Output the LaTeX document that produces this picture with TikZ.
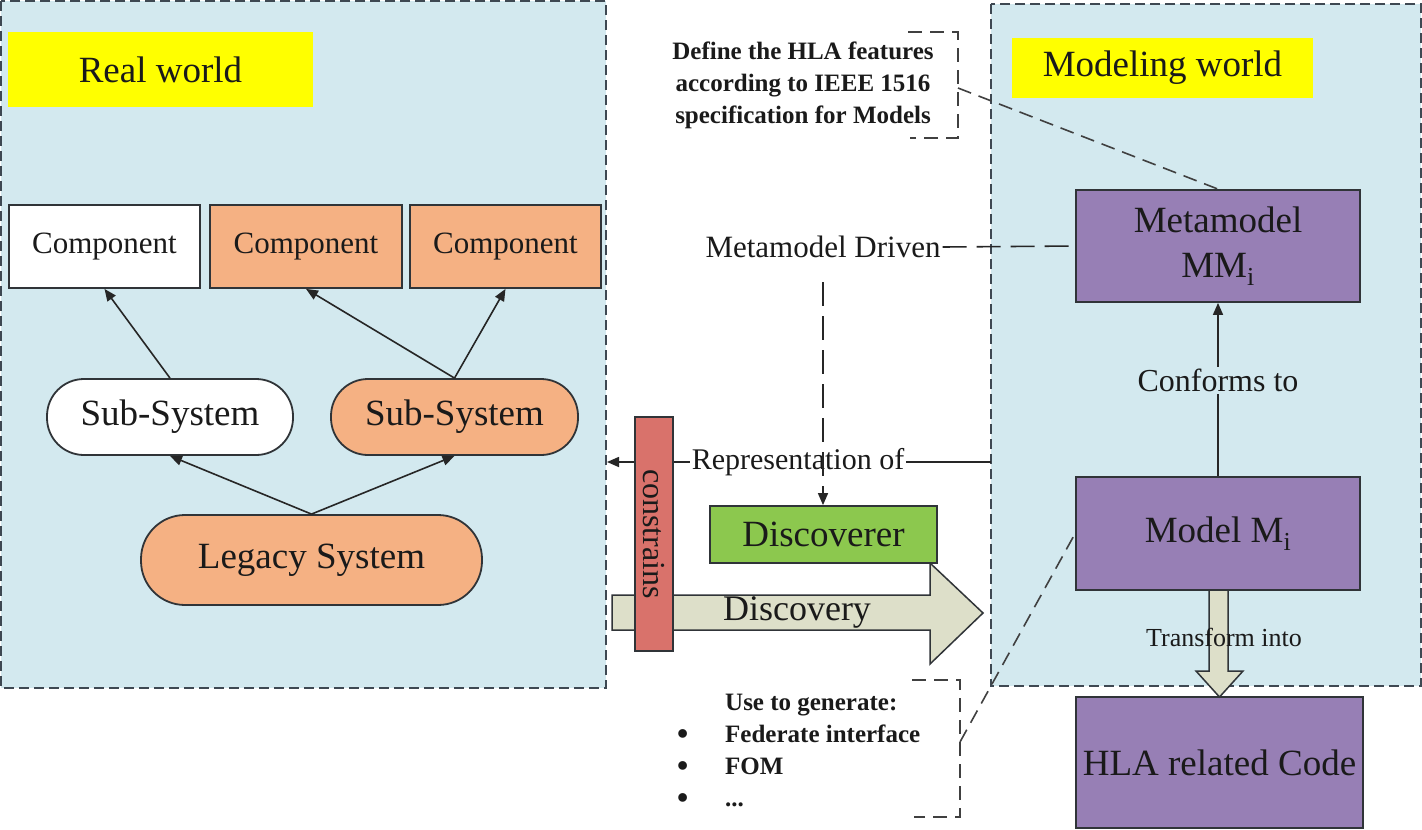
\documentclass[tikz,border=0pt]{standalone}
\usepackage{fontspec}
\setmainfont{Liberation Serif}
\usetikzlibrary{arrows.meta}
\definecolor{panelblue}{HTML}{D3E9EF}
\definecolor{hlyellow}{HTML}{FFFF00}
\definecolor{orangefill}{HTML}{F5B183}
\definecolor{purplefill}{HTML}{977FB5}
\definecolor{greenfill}{HTML}{8CC84E}
\definecolor{redfill}{HTML}{D9726B}
\definecolor{beigefill}{HTML}{DDDFC9}
\definecolor{edge}{HTML}{303438}
\definecolor{dashgray}{HTML}{3E4852}
\definecolor{ink}{HTML}{1A1A1A}
\newcommand{\fs}[1]{\fontsize{#1}{#1}\selectfont}
\newcommand{\bigbul}{\makebox[49pt][l]{\hspace*{1pt}\raisebox{-2pt}{\fontsize{32}{32}\selectfont\textbullet}}}
\tikzset{
  panel/.style={draw=dashgray, line width=2pt, dash pattern=on 10pt off 5pt, fill=panelblue},
  tag/.style={fill=hlyellow, inner sep=0pt, font=\fs{37}, text=ink},
  box/.style={draw=edge, line width=1.8pt, inner sep=0pt, text=ink},
  pill/.style={box, rounded corners=37pt},
  conn/.style={line width=1.6pt, draw=black!85},
  arr/.style={-{Triangle[length=12pt,width=10pt]}},
  annodash/.style={line width=1.6pt, draw=black!75, dash pattern=on 14pt off 8pt},
  longdash/.style={dash pattern=on 24pt off 10pt},
  anno/.style={font=\bfseries\fontsize{25}{32}\selectfont, text=ink, inner sep=0pt}
}
\begin{document}
\begin{tikzpicture}[x=1pt,y=-1pt]
\useasboundingbox (0,0) rectangle (1422,830);
\fill[white] (0,0) rectangle (1422,830);
% panels
\path[panel] (1,1) rectangle (606,688);
\path[panel] (991,4) rectangle (1421,686);

% Real world side
\node[tag, minimum width=305pt, minimum height=75pt] (rw) at (160.5,69.5) {Real world};
\node[box, fill=white, minimum width=191pt, minimum height=83pt, font=\fs{31}] (c1) at (104.5,246.5) {Component};
\node[box, fill=orangefill, minimum width=192pt, minimum height=83pt, font=\fs{31}] (c2) at (306,246.5) {Component};
\node[box, fill=orangefill, minimum width=191pt, minimum height=83pt, font=\fs{31}] (c3) at (505.5,246.5) {Component};
\node[pill, fill=white, minimum width=246pt, minimum height=76pt, font=\fs{37}] (ss1) at (170,417) {Sub-System};
\node[pill, fill=orangefill, minimum width=247pt, minimum height=76pt, font=\fs{37}] (ss2) at (454.5,417) {Sub-System};
\node[pill, rounded corners=44pt, fill=orangefill, minimum width=341pt, minimum height=90pt, font=\fs{37}] (leg) at (311.5,560) {Legacy System};
\draw[conn, arr] (ss1.north) -- (c1.south);
\draw[conn, arr] (ss2.north) -- (c2.south);
\draw[conn, arr] (ss2.north) -- (c3.south);
\draw[conn, arr] (leg.north) -- (ss1.south);
\draw[conn, arr] (leg.north) -- (ss2.south);

% Modeling world side
\node[tag, minimum width=301pt, minimum height=60pt] (mw) at (1162.5,68) {Modeling world};
\node[box, fill=purplefill, minimum width=284pt, minimum height=112pt, align=center, font=\fontsize{37}{45}\selectfont] (meta) at (1218,246) {Metamodel\\MM\textsubscript{i}};
\node[box, fill=purplefill, minimum width=284pt, minimum height=113pt, font=\fs{37}] (model) at (1218,533.5) {Model M\textsubscript{i}};
\node[box, fill=purplefill, minimum width=287pt, minimum height=131pt, font=\fs{37}] (hla) at (1219.5,762.5) {HLA related Code};
\draw[conn, arr] (model.north) -- node[pos=0.55, fill=panelblue, inner sep=2pt, font=\fs{32}, text=ink] {Conforms to} (meta.south);
\draw[draw=edge, line width=1.5pt, fill=beigefill] (1209,590) -- (1228,590) -- (1228,671) -- (1243,671) -- (1219.5,697) -- (1196,671) -- (1209,671) -- cycle;
\node[font=\fs{26}, text=ink] (tr) at (1224,637) {Transform into};

% middle
\node[font=\fs{31}, text=ink, inner sep=2pt] (mmd) at (823,247) {Metamodel Driven};
\draw[conn, longdash] (mmd.east) -- (meta.west);
\node[font=\fs{30}, text=ink, inner sep=2pt] (rep) at (798,462) {Representation of};
\coordinate (repR) at (991,462);
\coordinate (repL) at (607,462);
\draw[conn] (repR) -- (rep.east);
\draw[conn, arr] (rep.west) -- (repL);
\draw[edge, line width=1.5pt, fill=beigefill] (612,595) -- (930,595) -- (930,563) -- (983,613) -- (930,664) -- (930,630) -- (612,630) -- cycle;
\node[font=\fs{36}, text=ink] (dy) at (797,612) {Discovery};
\node[box, fill=greenfill, minimum width=227pt, minimum height=57pt, font=\fs{37}] (disc) at (823.5,534.5) {Discoverer};
\draw[conn, arr, longdash, shorten <=22pt] (mmd.south) -- (mmd.south |- disc.north);
\node[box, fill=redfill, rotate=-90, minimum width=234pt, minimum height=38pt, font=\fs{32}] (con) at (654,534) {constrains};

% annotations
\node[anno, align=center] (def) at (803,85) {Define the HLA features\\according to IEEE 1516\\specification for Models};
\draw[annodash] (908,32) -- (958,32) -- (958,138) -- (910,138);
\coordinate (defc) at (958,88);
\draw[annodash] (defc) -- (meta.north);

\node[anno, align=left, anchor=west] (use) at (676,751) {\makebox[49pt][l]{}Use to generate:\\\bigbul Federate interface\\\bigbul FOM\\\bigbul ...};
\draw[annodash] (912,680) -- (960,680) -- (960,817) -- (914,817);
\coordinate (usec) at (960,742);
\draw[annodash] (usec) -- (model.west);
\end{tikzpicture}
\end{document}
